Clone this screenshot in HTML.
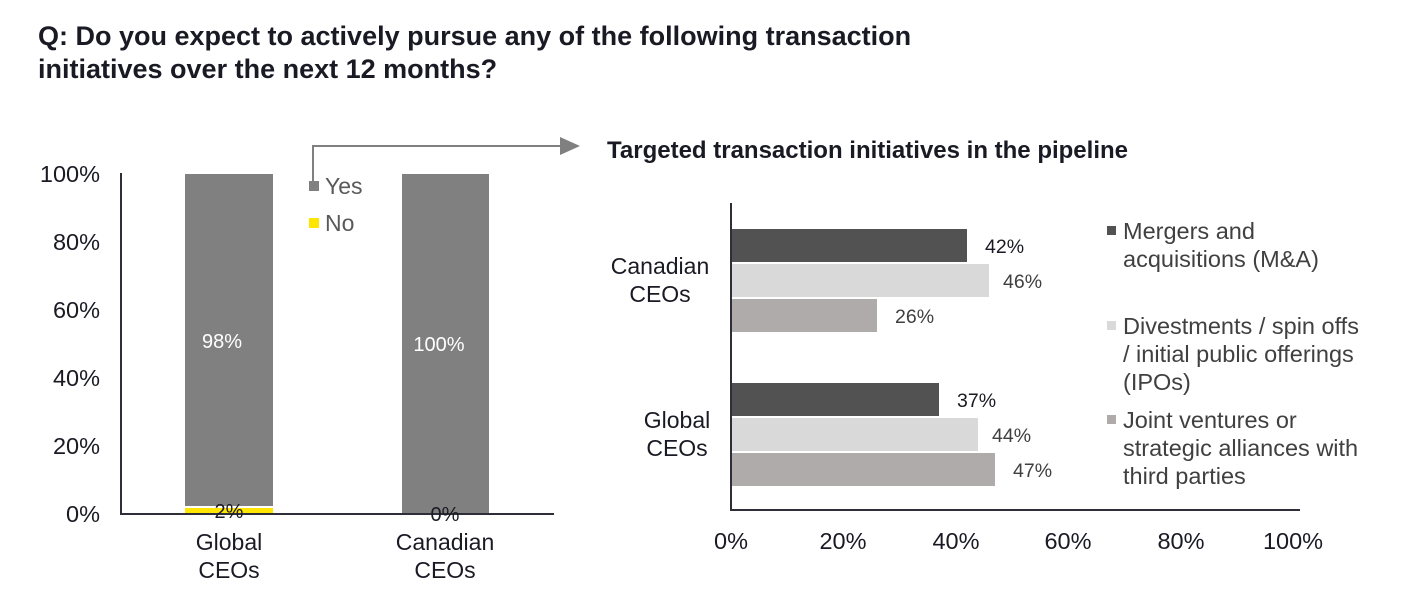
<!DOCTYPE html>
<html><head><meta charset="utf-8"><style>
body{margin:0;background:#fff;}
svg text{font-family:"Liberation Sans",Arial,sans-serif;}
</style></head><body>
<svg width="1418" height="604" viewBox="0 0 1418 604" xmlns="http://www.w3.org/2000/svg">
<rect width="1418" height="604" fill="#fff"/>
<text x="38" y="45" font-size="27" font-weight="bold" fill="#1a1a24">Q: Do you expect to actively pursue any of the following transaction</text>
<text x="38" y="78" font-size="27" font-weight="bold" fill="#1a1a24">initiatives over the next 12 months?</text>
<!-- left chart -->
<g font-size="23.5" fill="#1a1a24" text-anchor="end">
<text x="100" y="182">100%</text><text x="100" y="250">80%</text><text x="100" y="318">60%</text>
<text x="100" y="386">40%</text><text x="100" y="454">20%</text><text x="100" y="522">0%</text>
</g>
<rect x="185" y="174" width="88" height="332" fill="#808080"/>
<rect x="185" y="508" width="88" height="6" fill="#ffe600"/>
<rect x="402" y="174" width="87" height="340" fill="#808080"/>
<line x1="121" y1="173" x2="121" y2="515" stroke="#2e2e38" stroke-width="2"/>
<line x1="120" y1="514" x2="554" y2="514" stroke="#2e2e38" stroke-width="2"/>
<text x="222" y="348" font-size="20" fill="#fff" text-anchor="middle">98%</text>
<text x="439" y="351" font-size="20" fill="#fff" text-anchor="middle">100%</text>
<text x="229" y="518" font-size="20" fill="#1a1a24" text-anchor="middle">2%</text>
<text x="445" y="521" font-size="20" fill="#1a1a24" text-anchor="middle">0%</text>
<g font-size="23" fill="#1a1a24" text-anchor="middle">
<text x="229" y="550">Global</text><text x="229" y="578">CEOs</text>
<text x="445" y="550">Canadian</text><text x="445" y="578">CEOs</text>
</g>
<rect x="309" y="181" width="10" height="10" fill="#808080"/>
<text x="325" y="194" font-size="23" fill="#595959">Yes</text>
<rect x="309" y="218" width="10" height="10" fill="#ffe600"/>
<text x="325" y="231" font-size="23" fill="#595959">No</text>
<polyline points="313,181 313,146 562,146" fill="none" stroke="#808080" stroke-width="2"/>
<polygon points="560,137 580,146 560,155" fill="#808080"/>
<!-- right chart -->
<text x="607" y="158" font-size="24" font-weight="bold" fill="#1a1a24">Targeted transaction initiatives in the pipeline</text>
<rect x="731" y="229" width="236" height="33" fill="#525252"/>
<rect x="731" y="264" width="258" height="33" fill="#d9d9d9"/>
<rect x="731" y="299" width="146" height="33" fill="#afabab"/>
<rect x="731" y="383" width="208" height="33" fill="#525252"/>
<rect x="731" y="418" width="247" height="33" fill="#d9d9d9"/>
<rect x="731" y="453" width="264" height="33" fill="#afabab"/>
<line x1="731" y1="203" x2="731" y2="511" stroke="#2e2e38" stroke-width="2"/>
<line x1="730" y1="510" x2="1300" y2="510" stroke="#2e2e38" stroke-width="2"/>
<g font-size="19.5">
<text x="985" y="253" fill="#1a1a24">42%</text>
<text x="1003" y="288" fill="#404040">46%</text>
<text x="895" y="323" fill="#404040">26%</text>
<text x="957" y="407" fill="#1a1a24">37%</text>
<text x="992" y="442" fill="#404040">44%</text>
<text x="1013" y="477" fill="#404040">47%</text>
</g>
<g font-size="23" fill="#1a1a24" text-anchor="middle">
<text x="660" y="274">Canadian</text><text x="660" y="302">CEOs</text>
<text x="677" y="428">Global</text><text x="677" y="456">CEOs</text>
</g>
<g font-size="23.5" fill="#1a1a24" text-anchor="middle">
<text x="731" y="549">0%</text><text x="843" y="549">20%</text><text x="956" y="549">40%</text>
<text x="1068" y="549">60%</text><text x="1181" y="549">80%</text><text x="1293" y="549">100%</text>
</g>
<g font-size="23.5" fill="#404040">
<rect x="1107" y="226" width="9" height="9" fill="#525252"/>
<text x="1123" y="239">Mergers and</text><text x="1123" y="267">acquisitions (M&amp;A)</text>
<rect x="1107" y="321" width="9" height="9" fill="#d9d9d9"/>
<text x="1123" y="334">Divestments / spin offs</text><text x="1123" y="362">/ initial public offerings</text><text x="1123" y="390">(IPOs)</text>
<rect x="1107" y="415" width="9" height="9" fill="#afabab"/>
<text x="1123" y="428">Joint ventures or</text><text x="1123" y="456">strategic alliances with</text><text x="1123" y="484">third parties</text>
</g>
</svg>
</body></html>
